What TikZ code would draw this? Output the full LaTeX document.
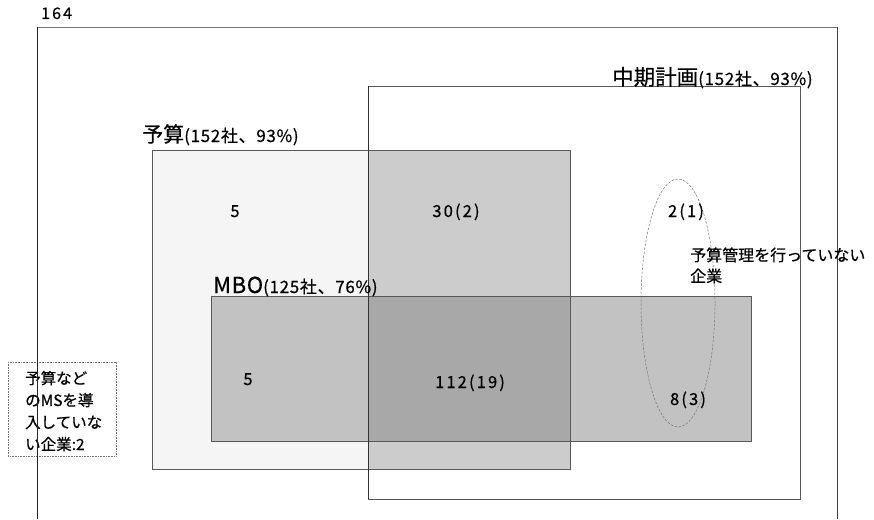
\documentclass[tikz,border=0pt]{standalone}
\usepackage{fontspec}
\setmainfont{Noto Sans CJK JP}[FakeBold=0.5]
\newfontfamily\numfont{Noto Sans CJK JP}[LetterSpace=13,FakeBold=0.5]
\newfontfamily\parfont{Noto Sans CJK JP}[LetterSpace=4,FakeBold=0.5]
\newfontfamily\mbofont{Noto Sans CJK JP}[LetterSpace=3,FakeBold=0.5]
\usetikzlibrary{shapes.geometric}
\begin{document}
\begin{tikzpicture}[x=1pt,y=-1pt,
  boxline/.style={draw=black!65, line width=0.9pt},
  lbl/.style={anchor=base west, inner sep=0pt},
  num/.style={anchor=base, inner sep=0pt, font=\numfont\fontsize{16.5}{18}\selectfont},
  note/.style={anchor=base west, inner sep=0pt, font=\fontsize{16}{18}\selectfont},
  msnote/.style={anchor=base west, inner sep=0pt, font=\fontsize{15.5}{17}\selectfont}]
\useasboundingbox (0,0) rectangle (874,519);
% outer frame
\coordinate (ftl) at (37,27); \coordinate (ftr) at (837,27);
\coordinate (fbl) at (37,519); \coordinate (fbr) at (837,519);
\draw[draw=black!55, line width=0.9pt] (ftl) -- (ftr);
\draw[draw=black!85, line width=0.9pt] (ftl) -- (fbl);
\draw[draw=black!75, line width=0.9pt] (ftr) -- (fbr);
\node[lbl, font=\numfont\fontsize{16}{18}\selectfont] (total) at (41,19) {164};
% fills
\fill[black!4] (152,150) rectangle (570,469);          % budget only
\fill[black!20] (368,150) rectangle (570,469);         % budget & mid-term
\fill[black!24] (211,296) rectangle (751,441);         % MBO
\fill[black!34] (368,296) rectangle (570,441);         % all three
% outlines
\draw[boxline] (368,86) rectangle (800,499);           % mid-term plan
\draw[boxline] (152,150) rectangle (570,469);          % budget
\draw[boxline] (211,296) rectangle (751,441);          % MBO
\draw[black!80, line width=0.8pt] (368,86) -- (368,499);
% ellipse
\node[ellipse, draw=black!55, dash pattern=on 2.5pt off 1.5pt, line width=0.5pt, minimum width=74pt, minimum height=248pt, inner sep=0pt] (noBudget) at (678,303) {};
% labels
\node[lbl] (lmid) at (612,85) {{\fontsize{21.5}{23}\selectfont 中期計画}{\parfont\fontsize{17}{19}\selectfont (152社、93\%)}};
\node[lbl] (lbud) at (142,142) {{\fontsize{21}{23}\selectfont 予算}{\parfont\fontsize{17}{19}\selectfont (152社、93\%)}};
\node[lbl] (lmbo) at (213,293) {{\mbofont\fontsize{22}{24}\selectfont MBO}{\parfont\fontsize{17}{19}\selectfont (125社、76\%)}};
% numbers
\node[num] (n1) at (235,217) {5};
\node[num] (n2) at (456,217) {30(2)};
\node[num] (n3) at (686,217) {2(1)};
\node[num] (n4) at (248,385) {5};
\node[num] (n5) at (470,388) {112(19)};
\node[num] (n6) at (688,405) {8(3)};
\node[note] (nb1) at (690,261) {予算管理を行っていない};
\node[note] (nb2) at (690,282) {企業};
% no MS box
\draw[draw=black!55, densely dotted, line width=0.6pt] (8,362) rectangle (116,456);
\node[msnote] (ms1) at (25,384) {予算など};
\node[msnote] (ms2) at (25,406) {のMSを導};
\node[msnote] (ms3) at (25,428) {入していな};
\node[msnote] (ms4) at (25,450) {い企業:2};
\draw[black!85, line width=0.9pt] (37,362) -- (37,519);
\end{tikzpicture}
\end{document}
